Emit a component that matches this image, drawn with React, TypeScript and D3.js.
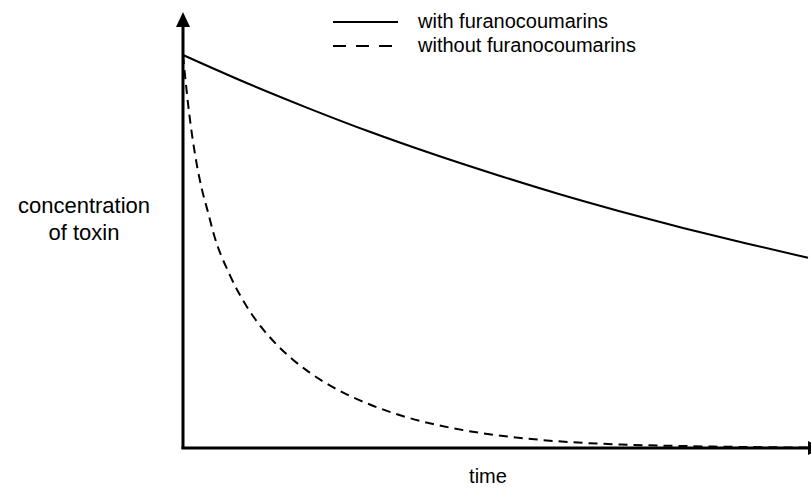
import React from "react";
import * as d3 from "d3";

const timeWith = [0, 1, 2, 3, 4, 5, 6, 7, 8, 9, 10];
const concWith = [100, 93.0, 86.5, 80.4, 74.8, 69.6, 64.7, 60.2, 56.0, 52.1, 48.4];

const timeWithout = [0, 0.1, 0.2, 0.3, 0.4, 0.5, 0.75, 1.0, 1.25, 1.5, 1.75, 2.0, 2.5, 3.0, 3.5, 4.0, 4.5, 5.0, 5.5, 6.0, 7, 8, 9, 10];
const concWithout = [100, 85, 74, 66, 60, 54, 44, 36.5, 30.8, 26.3, 22.6, 19.5, 14.6, 11.0, 8.2, 6.1, 4.5, 3.3, 2.4, 1.7, 0.9, 0.5, 0.25, 0.1];

const legendLabels = ["with furanocoumarins", "without furanocoumarins"];
const yAxisLabel = ["concentration", "of toxin"];
const xAxisLabel = "time";

const W = 811;
const H = 497;

export default function App() {
  const x = d3.scaleLinear().domain([0, 10]).range([183, 808]);
  const y = d3.scaleLinear().domain([0, 100]).range([448, 55]);
  const y0 = y(0);
  const x0 = x(0);
  const yTop = 12;

  const line = d3
    .line<[number, number]>()
    .x((d) => x(d[0]))
    .y((d) => y(d[1]))
    .curve(d3.curveMonotoneX);

  const withPts = timeWith.map((t, i) => [t, concWith[i]] as [number, number]);
  const withoutPts = timeWithout.map((t, i) => [t, concWithout[i]] as [number, number]);

  const font = "'Liberation Sans', Arial, sans-serif";

  return (
    <svg
      width={W}
      height={H}
      style={{ position: "absolute", left: 0, top: 0, background: "#fff" }}
    >
      <rect x={0} y={0} width={W} height={H} fill="#fff" />
      {/* curves */}
      <path d={line(withPts) || ""} fill="none" stroke="#000" strokeWidth={2} />
      <path
        d={line(withoutPts) || ""}
        fill="none"
        stroke="#000"
        strokeWidth={2}
        strokeDasharray="9,6"
      />
      {/* axes */}
      <line x1={x0} y1={y0 + 1} x2={x0} y2={yTop + 10} stroke="#000" strokeWidth={3} />
      <path d={`M${x0},${yTop} L${x0 - 7},${yTop + 15} L${x0 + 7},${yTop + 15} Z`} fill="#000" />
      <line x1={x0 - 1.5} y1={y0} x2={x(10)} y2={y0} stroke="#000" strokeWidth={3} />
      <path d={`M${x(10) + 14},${y0} L${x(10)},${y0 - 7} L${x(10)},${y0 + 7} Z`} fill="#000" />
      {/* legend */}
      <line x1={333} y1={22} x2={398} y2={22} stroke="#000" strokeWidth={2} />
      <line x1={333} y1={46} x2={392} y2={46} stroke="#000" strokeWidth={2} strokeDasharray="13,10" />
      <text x={418} y={28} fontFamily={font} fontSize={20} fill="#000">
        {legendLabels[0]}
      </text>
      <text x={418} y={52} fontFamily={font} fontSize={20} fill="#000">
        {legendLabels[1]}
      </text>
      {/* axis labels */}
      <text x={84} y={213} textAnchor="middle" fontFamily={font} fontSize={22} fill="#000">
        {yAxisLabel[0]}
      </text>
      <text x={84} y={240} textAnchor="middle" fontFamily={font} fontSize={22} fill="#000">
        {yAxisLabel[1]}
      </text>
      <text x={488} y={483} textAnchor="middle" fontFamily={font} fontSize={20} fill="#000">
        {xAxisLabel}
      </text>
    </svg>
  );
}
